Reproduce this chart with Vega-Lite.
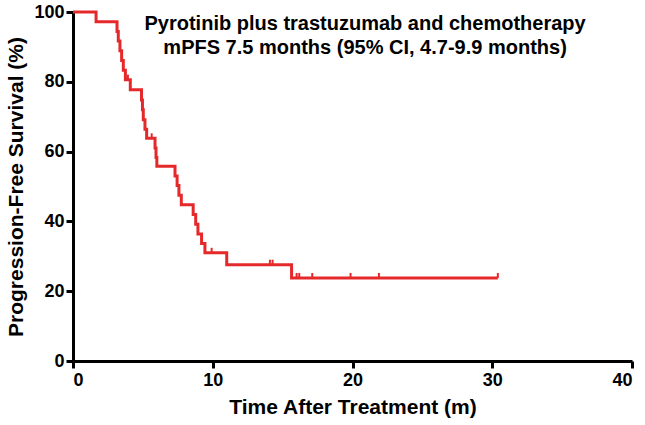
{
  "$schema": "https://vega.github.io/schema/vega-lite/v6.json",
  "width": 559,
  "height": 349,
  "autosize": {"type": "none"},
  "padding": {"left": 73, "top": 12, "right": 13, "bottom": 64},
  "background": "white",
  "config": {"view": {"stroke": null}, "font": "Liberation Sans"},
  "datasets": {
    "steps": [
      {"t": 0, "s": 100}, {"t": 1.65, "s": 97.2}, {"t": 3.15, "s": 94.4}, {"t": 3.24, "s": 91.7}, {"t": 3.36, "s": 88.9},
      {"t": 3.48, "s": 86.1}, {"t": 3.6, "s": 83.3}, {"t": 3.75, "s": 80.6}, {"t": 4.1, "s": 77.7},
      {"t": 4.9, "s": 74.8}, {"t": 4.97, "s": 72}, {"t": 5.03, "s": 69.1}, {"t": 5.15, "s": 66.4}, {"t": 5.27, "s": 63.8},
      {"t": 5.87, "s": 61}, {"t": 5.94, "s": 58.3}, {"t": 6.0, "s": 55.8}, {"t": 7.3, "s": 53}, {"t": 7.45, "s": 50.3},
      {"t": 7.58, "s": 47.5}, {"t": 7.75, "s": 44.8}, {"t": 8.6, "s": 42}, {"t": 8.78, "s": 39.2}, {"t": 8.94, "s": 36.4},
      {"t": 9.2, "s": 33.7}, {"t": 9.44, "s": 31}, {"t": 11.0, "s": 27.6}, {"t": 15.64, "s": 23.8}, {"t": 30.4, "s": 23.8}
    ],
    "censored": [
      {"t": 3.93, "s": 80.6}, {"t": 5.63, "s": 63.8}, {"t": 9.92, "s": 31}, {"t": 14.09, "s": 27.6}, {"t": 14.28, "s": 27.6},
      {"t": 16.0, "s": 23.8}, {"t": 16.19, "s": 23.8}, {"t": 17.12, "s": 23.8}, {"t": 19.86, "s": 23.8}, {"t": 21.89, "s": 23.8}, {"t": 30.4, "s": 23.8}
    ],
    "labels": [
      {"t": 20.9, "s": 94.8, "text": "Pyrotinib plus trastuzumab and chemotherapy"},
      {"t": 20.9, "s": 88.0, "text": "mPFS 7.5 months (95% CI, 4.7-9.9 months)"}
    ]
  },
  "layer": [
    {
      "data": {"name": "steps"},
      "mark": {"type": "line", "interpolate": "step-after", "color": "#e5292b", "strokeWidth": 3, "clip": false},
      "encoding": {
        "x": {"field": "t", "type": "quantitative", "scale": {"domain": [0, 40], "nice": false},
          "axis": {"values": [0, 10, 20, 30, 40], "title": "Time After Treatment (m)", "grid": false,
            "domainColor": "black", "domainWidth": 3, "tickColor": "black", "tickWidth": 3, "tickSize": 7,
            "labelFont": "Liberation Sans", "labelFontWeight": "bold", "labelFontSize": 18, "labelColor": "black", "labelPadding": 3,
            "titleFont": "Liberation Sans", "titleFontWeight": "bold", "titleFontSize": 21, "titleColor": "black", "titlePadding": 7}},
        "y": {"field": "s", "type": "quantitative", "scale": {"domain": [0, 100], "nice": false},
          "axis": {"values": [0, 20, 40, 60, 80, 100], "title": "Progression-Free Survival (%)", "grid": false,
            "domainColor": "black", "domainWidth": 3, "tickColor": "black", "tickWidth": 3, "tickSize": 7,
            "labelFont": "Liberation Sans", "labelFontWeight": "bold", "labelFontSize": 18, "labelColor": "black", "labelPadding": 2,
            "titleFont": "Liberation Sans", "titleFontWeight": "bold", "titleFontSize": 21, "titleColor": "black", "titlePadding": 7}}
      }
    },
    {
      "data": {"name": "censored"},
      "mark": {"type": "point", "shape": "M0,0L0,-1", "size": 100, "stroke": "#e5292b", "strokeWidth": 2, "filled": false, "opacity": 1},
      "encoding": {
        "x": {"field": "t", "type": "quantitative"},
        "y": {"field": "s", "type": "quantitative"}
      }
    },
    {
      "data": {"name": "labels"},
      "mark": {"type": "text", "font": "Liberation Sans", "fontWeight": "bold", "fontSize": 20, "color": "black", "align": "center", "baseline": "alphabetic"},
      "encoding": {
        "x": {"field": "t", "type": "quantitative"},
        "y": {"field": "s", "type": "quantitative"},
        "text": {"field": "text"}
      }
    }
  ]
}
